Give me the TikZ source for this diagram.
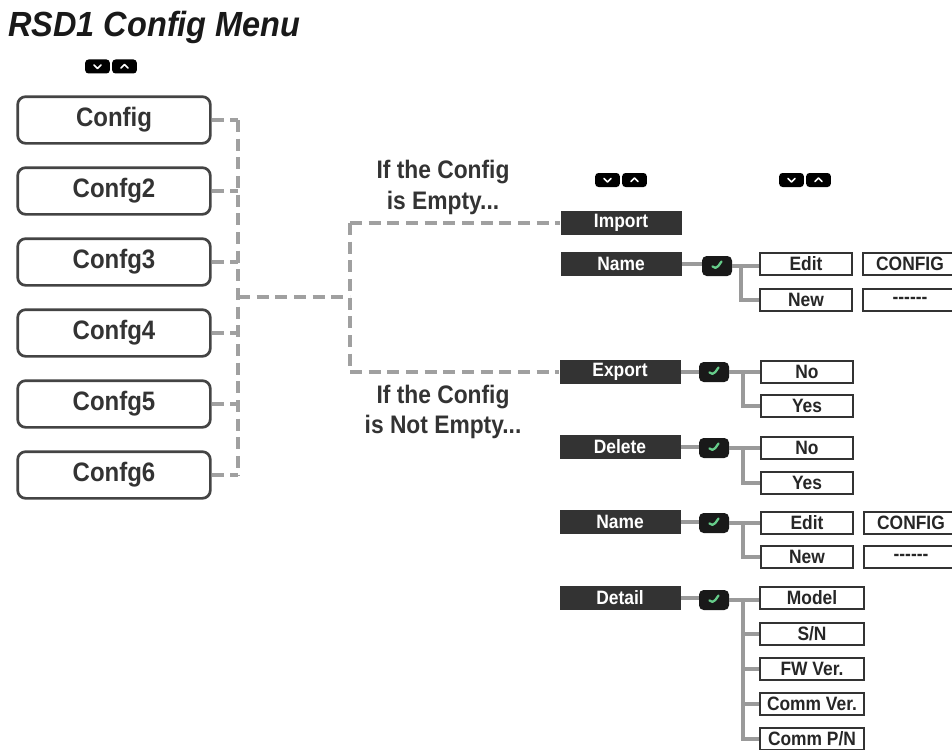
\documentclass[tikz,border=0pt]{standalone}
\usepackage{fontspec}
\setmainfont{Liberation Sans}[FakeStretch=0.9]
\newfontfamily\titlefont{Liberation Sans}[FakeStretch=0.93]
\usetikzlibrary{calc}
\definecolor{darkfill}{HTML}{333333}
\definecolor{boxborder}{HTML}{444444}
\definecolor{dashgray}{HTML}{A0A0A0}
\definecolor{conngray}{HTML}{9A9A9A}
\definecolor{chkgreen}{HTML}{66CC8A}
\definecolor{txtdark}{HTML}{333333}
\begin{document}
\begin{tikzpicture}[x=0.75pt,y=-0.75pt,
  cfgbox/.style={draw=boxborder, line width=2pt, rounded corners=6pt, fill=white,
    minimum width=144.5pt, minimum height=35pt, inner sep=0pt, text=txtdark,
    font=\fontsize{20}{22}\selectfont\bfseries},
  darkbox/.style={fill=darkfill, minimum width=90.75pt, minimum height=18pt, inner sep=0pt,
    text=white, font=\fontsize{14.5}{16}\selectfont\bfseries},
  wbox/.style={draw=darkfill, line width=1.3pt, fill=white, minimum height=16.5pt, inner sep=0pt,
    text=black!85, font=\fontsize{14.5}{16}\selectfont\bfseries},
  wboxa/.style={wbox, minimum width=69pt},
  wboxb/.style={wbox, minimum width=78pt},
  wboxc/.style={wbox, minimum width=70.5pt},
  chkbox/.style={fill=black!90, rounded corners=3.5pt, minimum width=22.5pt, minimum height=15pt,
    inner sep=0pt, path picture={
      \draw[chkgreen, line width=1.7pt, line cap=round, line join=round]
        ($(path picture bounding box.center)+(-4.5,0.5)$) --
        ($(path picture bounding box.center)+(-1.5,4)$) --
        ($(path picture bounding box.center)+(4.5,-4.5)$);}},
  keybox/.style={fill=black, rounded corners=2.5pt, minimum width=18.5pt, minimum height=10.5pt, inner sep=0pt},
  chev/.style={draw=white, line width=1.3pt, line cap=round, line join=round},
  dashline/.style={draw=dashgray, line width=2.6pt, dash pattern=on 9pt off 5pt},
  conn/.style={draw=conngray, line width=2.8pt},
  midtext/.style={align=center, text=txtdark, font=\fontsize{19}{23}\selectfont\bfseries},
]
\useasboundingbox (0,0) rectangle (952,749);

% title
\node[anchor=base west, inner sep=0pt, font=\titlefont\fontsize{26.2}{29}\selectfont\bfseries\itshape, text=black!90] (title) at (8,37) {RSD1 Config Menu};

% key pairs
\newcommand{\keypair}[3]{%
  \node[keybox] (#1d) at (#2,#3) {};
  \node[keybox] (#1u) at (#2+27,#3) {};
  \draw[chev] ($(#1d)+(-3.5,-1.5)$) -- ($(#1d)+(0,2)$) -- ($(#1d)+(3.5,-1.5)$);
  \draw[chev] ($(#1u)+(-3.5,1.5)$) -- ($(#1u)+(0,-2)$) -- ($(#1u)+(3.5,1.5)$);
}
\keypair{ka}{97.5}{66.5}
\keypair{kb}{607.5}{180}
\keypair{kc}{791.5}{180}

% config boxes
\node[cfgbox] (c1) at (114,120) {Config};
\node[cfgbox] (c2) at (114,191) {Confg2};
\node[cfgbox] (c3) at (114,262) {Confg3};
\node[cfgbox] (c4) at (114,333) {Confg4};
\node[cfgbox] (c5) at (114,404) {Confg5};
\node[cfgbox] (c6) at (114,475) {Confg6};

\coordinate (busx) at (238,0);
\coordinate (j1) at (238,297);
\coordinate (j2) at (350,297);
\coordinate (jtop) at (350,223);
\coordinate (jbot) at (350,372);

% right-hand menu
\node[darkbox] (imp) at (621,223) {Import};
\node[darkbox] (nm1) at (621,264) {Name};
\node[chkbox] (k1) at (717,266) {};
\node[wboxa] (ed1) at (806,264) {Edit};
\node[wboxa] (nw1) at (806,300) {New};
\node[wboxc] (cf1) at (910,264) {CONFIG};
\node[wboxc] (ds1) at (910,300) {{-}{-}{-}{-}{-}{-}};

\node[darkbox] (exp) at (620,372) {Export};
\node[chkbox] (k2) at (714,372) {};
\node[wboxa] (no1) at (807,372) {No};
\node[wboxa] (ys1) at (807,406) {Yes};

\node[darkbox] (del) at (620,447) {Delete};
\node[chkbox] (k3) at (714,448) {};
\node[wboxa] (no2) at (807,448) {No};
\node[wboxa] (ys2) at (807,483) {Yes};

\node[darkbox] (nm2) at (620,522) {Name};
\node[chkbox] (k4) at (714,523) {};
\node[wboxa] (ed2) at (807,523) {Edit};
\node[wboxa] (nw2) at (807,557) {New};
\node[wboxc] (cf2) at (911,523) {CONFIG};
\node[wboxc] (ds2) at (911,557) {{-}{-}{-}{-}{-}{-}};

\node[darkbox] (det) at (620,598) {Detail};
\node[chkbox] (k5) at (714,600) {};
\node[wboxb] (mo) at (812,598) {Model};
\node[wboxb] (sn) at (812,634) {S/N};
\node[wboxb] (fw) at (812,669) {FW Ver.};
\node[wboxb] (cv) at (812,704) {Comm Ver.};
\node[wboxb] (cp) at (812,739) {Comm P/N};

\coordinate (spa) at (741,0);
\coordinate (spb) at (743,0);

% middle texts
\node[midtext] (t1) at (443,187.5) {If the Config\\is Empty...};
\node[midtext] (t2) at (443,412) {If the Config\\is Not Empty...};

% dashed connectors
\foreach \c in {c1,c2,c3,c4,c5,c6} \draw[dashline] (\c.east) -- (\c.east -| busx);
\draw[dashline] (c1.east -| busx) -- (c6.east -| busx);
\draw[dashline] (j1) -- (j2);
\draw[dashline] (jtop) -- (jbot);
\draw[dashline] (jtop) -- (imp.west);
\draw[dashline] (jbot) -- (exp.west);

% solid connectors
\draw[conn] (nm1.east) -- (nm1.east -| k1.west);
\draw[conn] (k1.east) -- (k1.east -| ed1.west);
\draw[conn] (k1.east -| spa) |- (nw1.west);

\draw[conn] (exp.east) -- (k2.west);
\draw[conn] (k2.east) -- (no1.west);
\draw[conn] (k2.east -| spb) |- (ys1.west);

\draw[conn] (del.east) -- (del.east -| k3.west);
\draw[conn] (k3.east) -- (no2.west);
\draw[conn] (k3.east -| spb) |- (ys2.west);

\draw[conn] (nm2.east) -- (nm2.east -| k4.west);
\draw[conn] (k4.east) -- (ed2.west);
\draw[conn] (k4.east -| spb) |- (nw2.west);

\draw[conn] (det.east) -- (det.east -| k5.west);
\draw[conn] (k5.east) -- (k5.east -| mo.west);
\draw[conn] (k5.east -| spb) |- (cp.west);
\draw[conn] (sn.west -| spb) -- (sn.west);
\draw[conn] (fw.west -| spb) -- (fw.west);
\draw[conn] (cv.west -| spb) -- (cv.west);
\end{tikzpicture}
\end{document}
